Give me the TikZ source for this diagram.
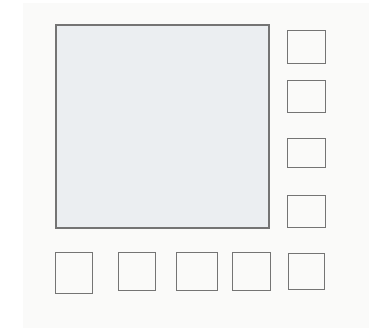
\documentclass[tikz,border=0pt]{standalone}
\usepackage{xcolor}
\usepackage{tikz}
\usetikzlibrary{positioning}
\definecolor{Paper}{HTML}{FAFAF9}
\definecolor{Pencil}{HTML}{747474}
\definecolor{Shade}{HTML}{EBEEF1}

\begin{document}
\begin{tikzpicture}[x=1pt,y=-1pt,
    canvas/.style={rectangle,draw=Pencil,line width=1.1pt,fill=Shade,inner sep=0pt,minimum width=213pt,minimum height=203pt},
    tile/.style={rectangle,draw=Pencil,line width=0.9pt,fill=Paper,inner sep=0pt,minimum width=37pt,minimum height=33pt}
]
\useasboundingbox (0,0) rectangle (382,329);
\fill[white] (0,0) rectangle (382,329);
\fill[Paper] (23,3) rectangle (369,328);
\node[canvas] (main) at (162.5,126.5) {};
% right column
\node[tile,minimum width=38pt] (r1) at (306,46.5) {};
\node[tile,minimum width=38pt,minimum height=32pt] (r2) at (306,96) {};
\node[tile,minimum width=38pt,minimum height=29pt] (r3) at (306,152.5) {};
\node[tile,minimum width=38pt,minimum height=32pt] (r4) at (306,211) {};
% bottom row
\node[tile,minimum height=41pt] (b1) at (73.5,272.5) {};
\node[tile,minimum height=38pt] (b2) at (136.5,271) {};
\node[tile,minimum width=41pt,minimum height=38pt] (b3) at (196.5,271) {};
\node[tile,minimum width=38pt,minimum height=38pt] (b4) at (251,271) {};
\node[tile,minimum width=36pt,minimum height=36pt] (b5) at (306,271) {};
\end{tikzpicture}
\end{document}
